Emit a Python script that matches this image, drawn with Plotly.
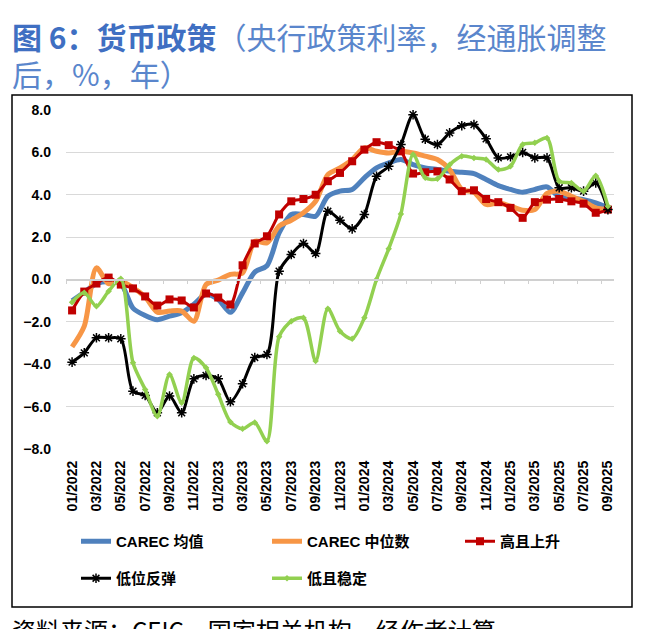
import plotly.graph_objects as go

months = ["01/2022", "02/2022", "03/2022", "04/2022", "05/2022", "06/2022", "07/2022", "08/2022", "09/2022",
          "10/2022", "11/2022", "12/2022", "01/2023", "02/2023", "03/2023", "04/2023", "05/2023", "06/2023",
          "07/2023", "08/2023", "09/2023", "10/2023", "11/2023", "12/2023", "01/2024", "02/2024", "03/2024",
          "04/2024", "05/2024", "06/2024", "07/2024", "08/2024", "09/2024", "10/2024", "11/2024", "12/2024",
          "01/2025", "02/2025", "03/2025", "04/2025", "05/2025", "06/2025", "07/2025", "08/2025", "09/2025"]

carec_mean = [-1.0, -0.6, -0.2, -0.1, -0.2, -1.35, -1.7, -1.9, -1.73, -1.57, -1.17, -0.7, -0.94, -1.55, -0.63,
              0.35, 0.65, 2.2, 3.07, 3.07, 2.99, 3.93, 4.17, 4.25, 4.8, 5.27, 5.5, 5.66, 5.42, 5.27, 5.19, 5.11,
              5.06, 5.0, 4.72, 4.43, 4.25, 4.12, 4.25, 4.37, 3.9, 3.85, 3.77, 3.62, 3.38]
carec_median = [-3.18, -2.2, 0.55, -0.2, -0.08, -0.38, -0.82, -1.54, -1.49, -1.49, -1.97, -0.24, -0.03, 0.24,
                0.31, 1.8, 1.73, 2.52, 2.8, 3.15, 3.69, 4.95, 5.27, 5.66, 6.21, 6.05, 5.97, 6.05, 5.97, 5.82,
                5.66, 5.19, 4.25, 4.12, 3.54, 3.62, 3.46, 3.27, 3.3, 4.06, 4.17, 3.93, 3.69, 3.38, 3.3]
high_rising = [-1.46, -0.57, -0.19, 0.09, -0.24, -0.42, -0.80, -1.23, -0.94, -0.99, -1.32, -0.66, -0.85, -1.18,
               0.67, 1.70, 2.04, 3.07, 3.69, 3.80, 4.00, 4.64, 5.03, 5.58, 6.13, 6.48, 6.34, 6.05, 5.00, 5.06,
               5.10, 4.72, 4.17, 4.21, 3.80, 3.65, 3.38, 2.91, 3.65, 3.77, 3.80, 3.69, 3.58, 3.15, 3.30]
low_rebound = [-3.9, -3.46, -2.75, -2.75, -2.8, -5.27, -5.47, -6.29, -5.5, -6.29, -4.69, -4.53, -4.69, -5.77,
               -4.92, -3.68, -3.54, 0.39, 1.18, 1.7, 1.23, 3.22, 2.8, 2.39, 3.07, 4.87, 5.34, 6.37, 7.78, 6.62,
               6.37, 6.92, 7.26, 7.31, 6.64, 5.74, 5.79, 6.0, 5.74, 5.74, 4.33, 4.33, 4.17, 4.56, 3.3]
low_stable = [-1.07, -0.63, -1.26, -0.55, 0.03, -3.93, -5.19, -6.45, -4.48, -5.82, -3.7, -4.17, -5.42, -6.72,
              -7.05, -6.75, -7.63, -2.7, -1.97, -1.81, -3.85, -1.38, -2.44, -2.8, -1.81, 0.0, 1.45, 3.09, 5.9,
              4.8, 4.75, 5.42, 5.82, 5.74, 5.66, 5.19, 5.34, 6.37, 6.45, 6.68, 4.64, 4.56, 4.17, 4.9, 3.46]

series_names = ["CAREC 均值", "CAREC 中位数", "高且上升", "低位反弹", "低且稳定"]
y_ticks = [-8, -6, -4, -2, 0, 2, 4, 6, 8]

W, H = 648, 629
ML, MR, MT, MB = 66, 34, 110, 180
PW, PH = W - ML - MR, H - MT - MB


def px(x):
    return (x - ML) / PW


def py(y):
    return (H - MB - y) / PH


LAB = dict(family="Liberation Sans, Noto Sans CJK SC", size=14, color="#000000", weight="bold")
LEG = dict(family="Liberation Sans, Noto Sans CJK SC", size=15, color="#000000", weight="bold")

fig = go.Figure()
fig.add_trace(go.Scatter(x=months, y=carec_mean, name=series_names[0], mode="lines",
                         line=dict(color="#4F81BD", width=5, shape="spline", smoothing=0.8),
                         legend="legend"))
fig.add_trace(go.Scatter(x=months, y=carec_median, name=series_names[1], mode="lines",
                         line=dict(color="#F79646", width=5, shape="spline", smoothing=0.8),
                         legend="legend"))
fig.add_trace(go.Scatter(x=months, y=high_rising, name=series_names[2], mode="lines+markers",
                         line=dict(color="#C00000", width=3, shape="spline", smoothing=0.8),
                         marker=dict(symbol="square", size=8, color="#C00000"),
                         legend="legend3"))
fig.add_trace(go.Scatter(x=months, y=low_rebound, name=series_names[3], mode="lines+markers",
                         line=dict(color="#000000", width=3, shape="spline", smoothing=0.8),
                         marker=dict(symbol="asterisk-open", size=8, color="#000000",
                                     line=dict(color="#000000", width=1.5)),
                         legend="legend2"))
fig.add_trace(go.Scatter(x=months, y=low_stable, name=series_names[4], mode="lines+markers",
                         line=dict(color="#92D050", width=3.5, shape="spline", smoothing=0.8),
                         marker=dict(symbol="diamond", size=5, color="#92D050"),
                         legend="legend2"))
# helper trace so the zero-line axis (ticks at y=0) is drawn
fig.add_trace(go.Scatter(x=[0], y=[0], xaxis="x2", mode="markers", marker=dict(opacity=0),
                         showlegend=False, hoverinfo="skip"))

fig.update_layout(
    width=W, height=H,
    margin=dict(l=ML, r=MR, t=MT, b=MB, pad=0),
    paper_bgcolor="#FFFFFF", plot_bgcolor="#FFFFFF",
    showlegend=True,
    xaxis=dict(type="category", range=[-0.5, len(months) - 0.5], tickmode="array",
               tickvals=months[::2], ticktext=months[::2], tickangle=-90,
               showgrid=False, zeroline=False, showline=False, ticks="",
               tickfont=LAB, ticklabelstandoff=8),
    xaxis2=dict(overlaying="x", anchor="free", position=0.5, range=[-0.5, len(months) - 0.5],
                tickmode="array", tickvals=[v - 0.5 for v in range(0, len(months) + 1, 2)],
                showticklabels=False, ticks="outside", ticklen=4, tickcolor="#D0D0D0", tickwidth=1,
                showline=True, linecolor="#D0D0D0", linewidth=1.5, showgrid=False, zeroline=False),
    yaxis=dict(range=[-8, 8], tickmode="array", tickvals=y_ticks, tickformat=".1f",
               showgrid=True, gridcolor="#D9D9D9", gridwidth=1.2, zeroline=False, showline=False,
               ticks="", tickfont=LAB, ticklabelstandoff=14),
    legend=dict(orientation="h", x=px(76), y=py(525), xanchor="left", yanchor="top",
                entrywidth=146, entrywidthmode="pixels", bgcolor="rgba(0,0,0,0)", font=LEG),
    legend3=dict(orientation="h", x=px(460), y=py(525), xanchor="left", yanchor="top",
                 entrywidth=100, entrywidthmode="pixels", bgcolor="rgba(0,0,0,0)", font=LEG),
    legend2=dict(orientation="h", x=px(76), y=py(562), xanchor="left", yanchor="top",
                 entrywidth=146, entrywidthmode="pixels", bgcolor="rgba(0,0,0,0)", font=LEG),
    shapes=[dict(type="rect", xref="paper", yref="paper", x0=px(12), x1=px(632), y0=py(607), y1=py(95),
                 line=dict(color="#000000", width=1.5), fillcolor="rgba(0,0,0,0)", layer="below")],
    annotations=[
        dict(xref="paper", yref="paper", x=px(10), y=py(36), xanchor="left", yanchor="middle", showarrow=False,
             text="<b>图 6：货币政策</b><span style='color:#5A86CC'>（央行政策利率，经通胀调整</span>",
             font=dict(family="Noto Sans CJK SC", size=30, color="#3F6FC2")),
        dict(xref="paper", yref="paper", x=px(10), y=py(73), xanchor="left", yanchor="middle", showarrow=False,
             text="后，%，年）",
             font=dict(family="Noto Sans CJK SC", size=30, color="#5A86CC")),
        dict(xref="paper", yref="paper", x=px(10), y=py(610), xanchor="left", yanchor="top", showarrow=False,
             text="资料来源：CEIC，国家相关机构，经作者计算",
             font=dict(family="Noto Sans CJK SC", size=24, color="#000000")),
    ],
)

fig.write_html("out.html")
